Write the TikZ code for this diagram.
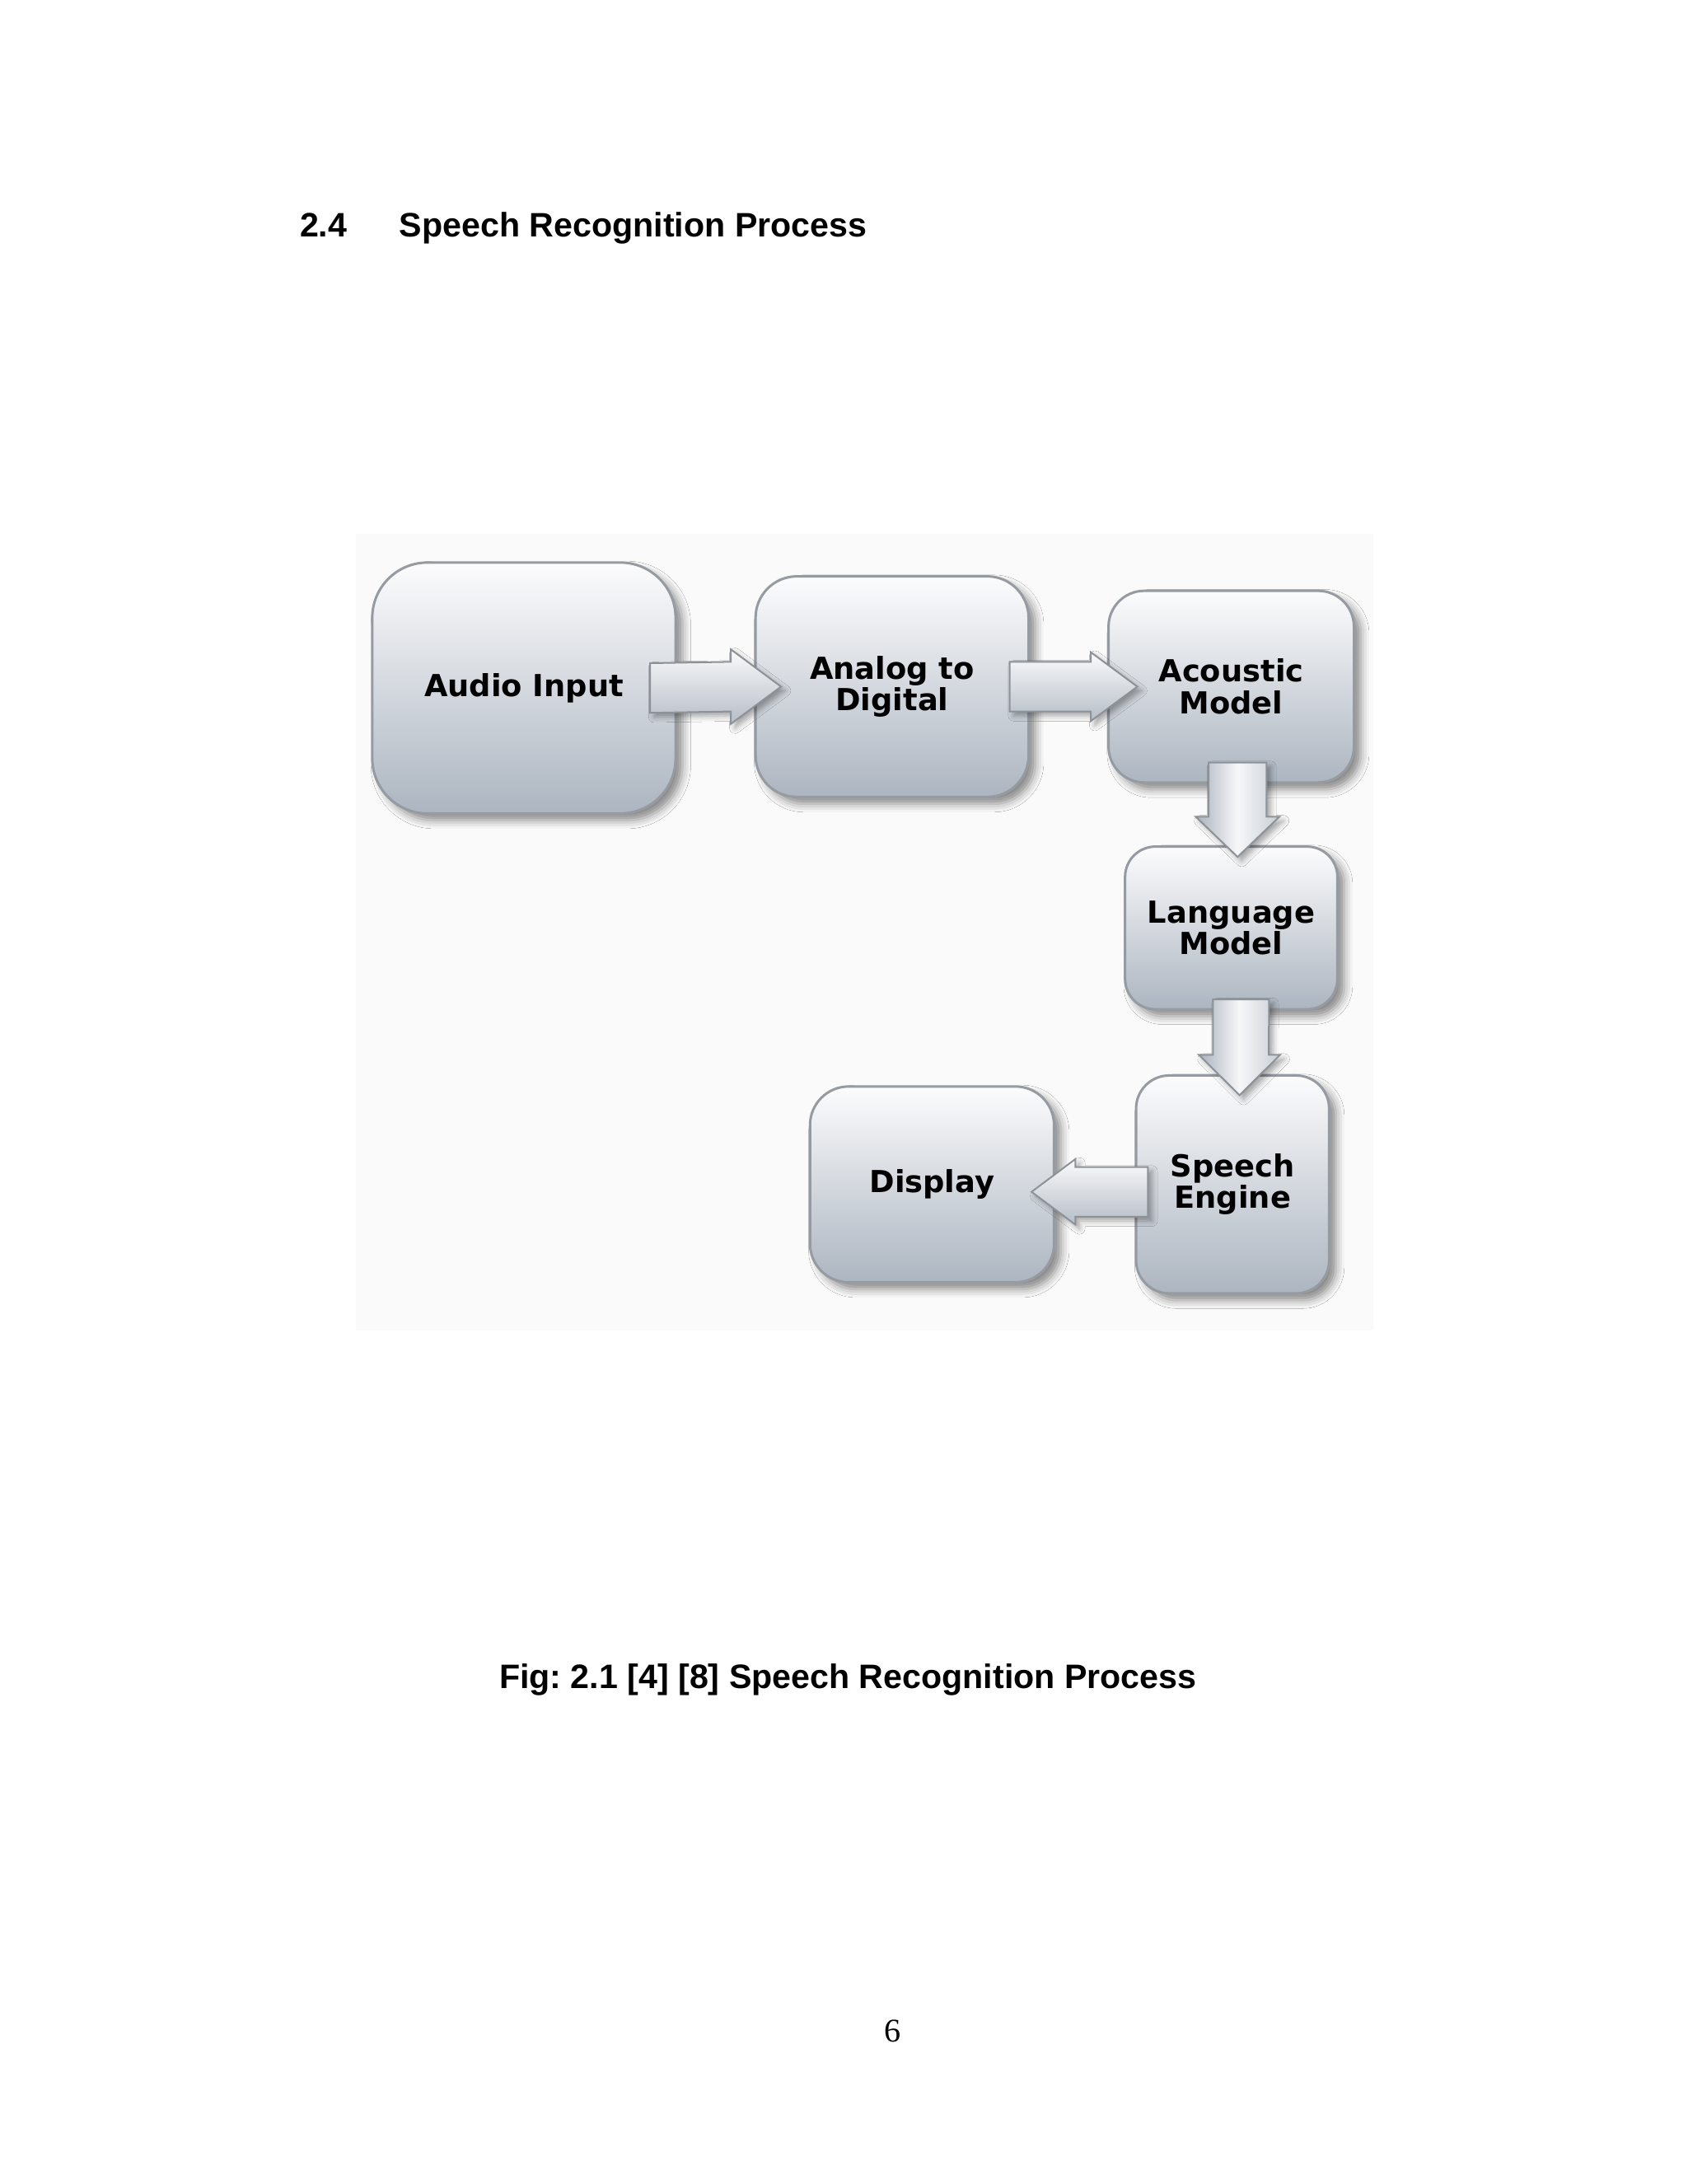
\documentclass[tikz,border=0pt]{standalone}
\usepackage{fontspec}
\setmainfont{Liberation Serif}
\newfontfamily\headfont{Liberation Sans}
\newfontfamily\stagefont{DejaVu Sans}
\usetikzlibrary{calc,shadows.blur}
\frenchspacing

\tikzset{every picture/.style={line width=0.75pt}}
\tikzset{
  stage/.style={draw={rgb, 255:red, 150; green, 155; blue, 162 }, line width=0.9pt,
    top color={rgb, 255:red, 252; green, 252; blue, 253 }, bottom color={rgb, 255:red, 172; green, 181; blue, 192 },
    inner sep=0pt, align=center, font=\stagefont\bfseries\fontsize{11}{11.5}\selectfont,
    blur shadow={shadow xshift=2.5pt, shadow yshift=-2.5pt, shadow blur radius=3pt, shadow opacity=45}},
  flowh/.style={draw={rgb, 255:red, 140; green, 146; blue, 152 }, line width=0.6pt,
    top color={rgb, 255:red, 250; green, 251; blue, 252 }, bottom color={rgb, 255:red, 182; green, 189; blue, 198 },
    blur shadow={shadow xshift=1.5pt, shadow yshift=-1.5pt, shadow blur radius=2pt, shadow opacity=35}},
  flowv/.style={draw={rgb, 255:red, 140; green, 146; blue, 152 }, line width=0.6pt,
    left color={rgb, 255:red, 170; green, 178; blue, 188 }, right color={rgb, 255:red, 200; green, 206; blue, 212 }, middle color={rgb, 255:red, 246; green, 247; blue, 249 },
    blur shadow={shadow xshift=1.5pt, shadow yshift=-1.5pt, shadow blur radius=2pt, shadow opacity=35}},
  heading/.style={anchor=base west, inner sep=0pt, font=\headfont\bfseries\fontsize{12.3}{14}\selectfont}
}

\begin{document}
\begin{tikzpicture}[x=1pt,y=1pt,yscale=-1,xscale=1]
\useasboundingbox (0,0) rectangle (612,792);
\fill [white] (0,0) rectangle (612,792);

%Section heading
\node [heading] (secnum) at (108.4,86) {2.4};
\node [heading] (sectitle) at (144.5,86) {Speech Recognition Process};

%Image area
\fill [color={rgb, 255:red, 250; green, 250; blue, 250 }] (129,193.5) rectangle (498,482.6);

%Stages
\node [stage, rounded corners=20pt, minimum width=110pt, minimum height=91pt] (audio) at (190,249.5) {Audio Input};
\node [stage, rounded corners=15pt, minimum width=99pt, minimum height=80pt] (adc) at (323.5,249) {Analog to\\Digital};
\node [stage, rounded corners=13pt, minimum width=89pt, minimum height=69.5pt] (acoustic) at (446.5,249) {Acoustic\\Model};
\node [stage, rounded corners=11pt, minimum width=77pt, minimum height=59pt] (language) at (446.5,336.5) {Language\\Model};
\node [stage, rounded corners=12pt, minimum width=70pt, minimum height=79pt] (engine) at (447,429.5) {Speech\\Engine};
\node [stage, rounded corners=14pt, minimum width=88.5pt, minimum height=71pt] (display) at (338,429.5) {Display};

%Block arrows
\path [flowh] ($(audio.east)+(-9.7,-9)$) -- ($(adc.west)+(-8.5,-9)$) -- ($(adc.west)+(-8.5,-13.5)$) -- ($(adc.west)+(9.7,0)$) -- ($(adc.west)+(-8.5,13.5)$) -- ($(adc.west)+(-8.5,9)$) -- ($(audio.east)+(-9.7,9)$) -- cycle;
\path [flowh] ($(adc.east)+(-7.3,-9)$) -- ($(acoustic.west)+(-6,-9)$) -- ($(acoustic.west)+(-6,-12.5)$) -- ($(acoustic.west)+(10.9,0)$) -- ($(acoustic.west)+(-6,12.5)$) -- ($(acoustic.west)+(-6,9)$) -- ($(adc.east)+(-7.3,9)$) -- cycle;
\path [flowv] ($(acoustic.south)+(-8.2,-7.7)$) -- ($(language.north)+(-8.2,-10.4)$) -- ($(language.north)+(-12.9,-10.4)$) -- ($(language.north)+(2.3,4.2)$) -- ($(language.north)+(17.5,-10.4)$) -- ($(language.north)+(12.8,-10.4)$) -- ($(acoustic.south)+(12.8,-7.7)$) -- cycle;
\path [flowv] ($(language.south)+(-6.6,-4)$) -- ($(engine.north)+(-7.1,-7)$) -- ($(engine.north)+(-12.2,-7)$) -- ($(engine.north)+(2.5,7.6)$) -- ($(engine.north)+(17.2,-7)$) -- ($(engine.north)+(13.1,-7)$) -- ($(language.south)+(13.7,-4)$) -- cycle;
\path [flowh] ($(engine.west)+(4.7,-6.3)$) -- ($(display.east)+(7.3,-6.3)$) -- ($(display.east)+(7.3,-9.2)$) -- ($(display.east)+(-8.6,2.7)$) -- ($(display.east)+(7.3,14.6)$) -- ($(display.east)+(7.3,11.7)$) -- ($(engine.west)+(4.7,11.7)$) -- cycle;

%Caption and page number
\node [anchor=base, inner sep=0pt, font=\headfont\bfseries\fontsize{12.3}{14}\selectfont] (caption) at (307.5,612.4) {Fig: 2.1 [4] [8] Speech Recognition Process};
\node [anchor=base, inner sep=0pt, font=\fontsize{12}{14}\selectfont] (pagenum) at (323.7,740.6) {6};
\end{tikzpicture}
\end{document}
